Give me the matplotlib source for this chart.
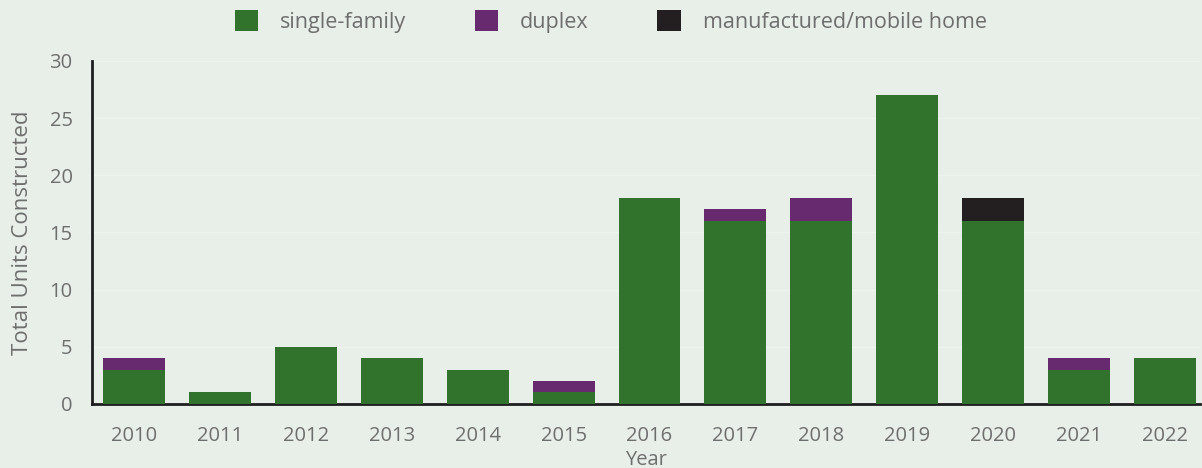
import matplotlib.pyplot as plt
import numpy as np

plt.rcParams['font.family'] = ['Open Sans', 'DejaVu Sans']

years = ['2010', '2011', '2012', '2013', '2014', '2015', '2016',
         '2017', '2018', '2019', '2020', '2021', '2022']
single_family = [3, 1, 5, 4, 3, 1, 18, 16, 16, 27, 16, 3, 4]
duplex = [1, 0, 0, 0, 0, 1, 0, 1, 2, 0, 0, 1, 0]
manufactured = [0, 0, 0, 0, 0, 0, 0, 0, 0, 0, 2, 0, 0]

bg = '#e8efe8'
green = '#31732c'
purple = '#672a6e'
black = '#231f20'
grey = '#6e6e6e'

fig = plt.figure(figsize=(12.02, 4.68), dpi=100, facecolor=bg)
ax = fig.add_axes([0.0765, 0.137, 0.922, 0.733], facecolor=bg)

x = np.arange(len(years))
sf = np.array(single_family)
dp = np.array(duplex)
mf = np.array(manufactured)
w = 0.72
ax.bar(x, sf, w, color=green, label='single-family', zorder=3)
ax.bar(x, dp, w, bottom=sf, color=purple, label='duplex', zorder=3)
ax.bar(x, mf, w, bottom=sf + dp, color=black,
       label='manufactured/mobile home', zorder=3)

ax.set_xlim(-0.49, 12.41)
ax.set_ylim(0, 30)
ax.set_yticks(range(0, 31, 5))
ax.set_xticks(x)
ax.set_xticklabels(years)
ax.grid(axis='y', color='#eef3ee', linewidth=1, zorder=0)
ax.tick_params(length=0, labelsize=14.5, colors=grey)
ax.tick_params(axis='x', pad=16)
ax.tick_params(axis='y', pad=14)

for s in ['top', 'right']:
    ax.spines[s].set_visible(False)
for s in ['left', 'bottom']:
    ax.spines[s].set_color('#1e1e1e')
    ax.spines[s].set_linewidth(2)

ax.set_ylabel('Total Units Constructed', fontsize=16, color=grey, labelpad=12)
ax.set_xlabel('Year', fontsize=14.5, color=grey, labelpad=3)

fig.legend(loc='upper center', bbox_to_anchor=(0.508, 1.02), ncol=3,
           frameon=False, fontsize=15.5, labelcolor=grey, handlelength=1.1,
           handleheight=1.1, columnspacing=3.2, handletextpad=1.0)

fig.savefig('out.png', dpi=100, facecolor=bg)
